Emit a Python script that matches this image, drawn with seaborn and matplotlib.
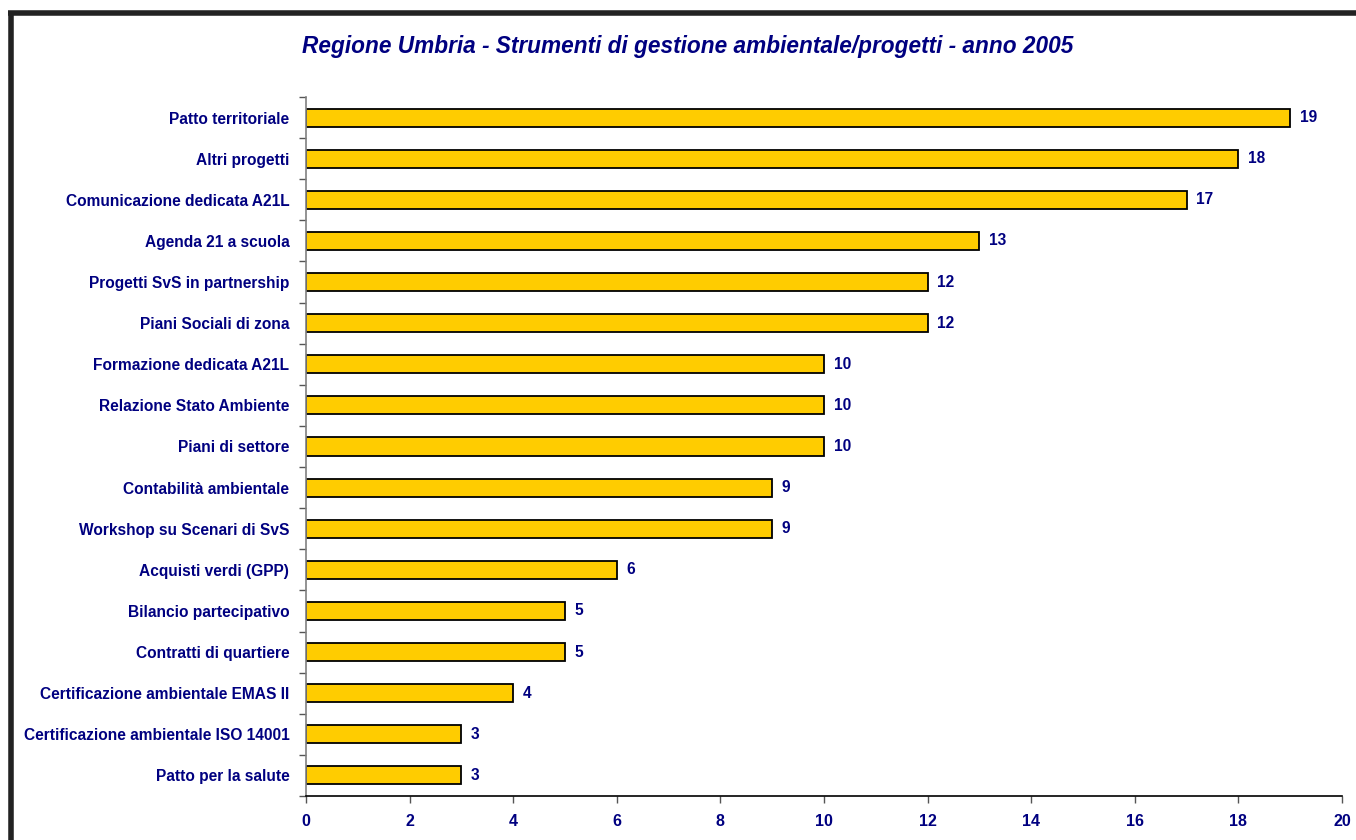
import numpy as np
import pandas as pd
import seaborn as sns
import matplotlib.pyplot as plt
from matplotlib.lines import Line2D

categories = [
    "Patto territoriale",
    "Altri progetti",
    "Comunicazione dedicata A21L",
    "Agenda 21 a scuola",
    "Progetti SvS in partnership",
    "Piani Sociali di zona",
    "Formazione dedicata A21L",
    "Relazione Stato Ambiente",
    "Piani di settore",
    "Contabilità ambientale",
    "Workshop su Scenari di SvS",
    "Acquisti verdi (GPP)",
    "Bilancio partecipativo",
    "Contratti di quartiere",
    "Certificazione ambientale EMAS II",
    "Certificazione ambientale ISO 14001",
    "Patto per la salute",
]
values = [19, 18, 17, 13, 12, 12, 10, 10, 10, 9, 9, 6, 5, 5, 4, 3, 3]
x_ticks = [0, 2, 4, 6, 8, 10, 12, 14, 16, 18, 20]

navy = "#000080"
gold = "#FFCC00"

df = pd.DataFrame({"categoria": categories, "valore": values})

sns.set_style("white")
plt.rcParams["font.family"] = ["Liberation Sans", "DejaVu Sans"]

fig = plt.figure(figsize=(13.56, 8.4), dpi=100)
ax = fig.add_axes([306 / 1356, 44 / 840, 1036 / 1356, 699 / 840])

sns.barplot(data=df, x="valore", y="categoria", orient="h", color=gold,
            edgecolor="black", linewidth=1.3, width=0.44, saturation=1, ax=ax)

ax.set_xlim(0, 20)
ax.set_ylim(len(categories) - 0.5, -0.5)
ax.set_xticks(x_ticks)
ax.set_xticklabels([str(t) for t in x_ticks], fontsize=11.5, fontweight="bold", color=navy)
ax.set_yticks(range(len(categories)))
ax.set_yticklabels(categories, fontsize=11.2, fontweight="bold", color=navy)
ax.set_yticks(np.arange(-0.5, len(categories), 1), minor=True)
ax.tick_params(axis="y", which="major", left=True, length=0, pad=12)
ax.tick_params(axis="y", which="minor", left=True, length=5, width=1, color="#555555", direction="out")
ax.tick_params(axis="x", which="major", bottom=True, length=5, width=1, color="#555555", direction="out", pad=8)

for s in ["top", "right"]:
    ax.spines[s].set_visible(False)
ax.spines["left"].set_color("#808080")
ax.spines["left"].set_linewidth(1.2)
ax.spines["bottom"].set_color("black")
ax.spines["bottom"].set_linewidth(1.2)
ax.set_xlabel("")
ax.set_ylabel("")

for c in ax.containers:
    ax.bar_label(c, labels=[str(v) for v in values], padding=7,
                 fontsize=11.2, fontweight="bold", color=navy)

fig.text(0.507, 0.945, "Regione Umbria - Strumenti di gestione ambientale/progetti - anno 2005",
         ha="center", va="center", fontsize=16.3, fontweight="bold", fontstyle="italic", color=navy)

# cornice scura in alto e a sinistra
fig.add_artist(Line2D([8 / 1356, 1], [1 - 12.5 / 840, 1 - 12.5 / 840],
                      transform=fig.transFigure, color="#222222", linewidth=4,
                      solid_capstyle="butt"))
fig.add_artist(Line2D([10.5 / 1356, 10.5 / 1356], [0, 1 - 10.5 / 840],
                      transform=fig.transFigure, color="#222222", linewidth=4,
                      solid_capstyle="butt"))

fig.savefig("out.png", dpi=100)
